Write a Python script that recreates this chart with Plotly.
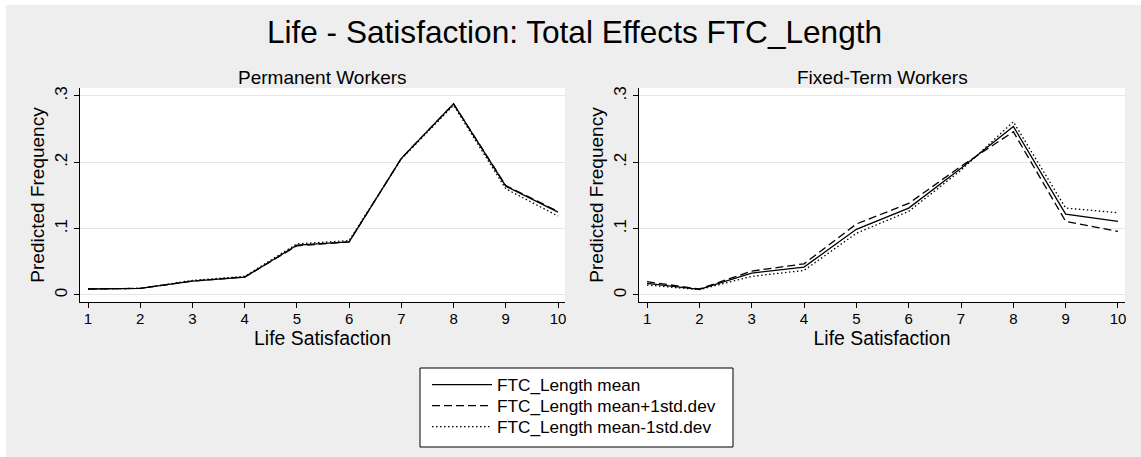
import plotly.graph_objects as go

# ---------------- data ----------------
life_sat = [1, 2, 3, 4, 5, 6, 7, 8, 9, 10]

perm_mean = [0.009, 0.010, 0.021, 0.027, 0.075, 0.080, 0.206, 0.288, 0.164, 0.125]
perm_plus = [0.009, 0.010, 0.021, 0.027, 0.074, 0.080, 0.206, 0.288, 0.165, 0.126]
perm_minus = [0.009, 0.010, 0.022, 0.028, 0.077, 0.082, 0.205, 0.286, 0.160, 0.119]

fixed_mean = [0.0175, 0.0085, 0.033, 0.042, 0.099, 0.131, 0.191, 0.254, 0.122, 0.111]
fixed_plus = [0.020, 0.009, 0.036, 0.047, 0.107, 0.138, 0.194, 0.246, 0.111, 0.096]
fixed_minus = [0.015, 0.008, 0.028, 0.037, 0.093, 0.126, 0.188, 0.261, 0.131, 0.124]

series_names = ["FTC_Length mean", "FTC_Length mean+1std.dev", "FTC_Length mean-1std.dev"]
y_ticks = [0, 0.1, 0.2, 0.3]
y_ticklabels = ["0", ".1", ".2", ".3"]
panel_titles = ["Permanent Workers", "Fixed-Term Workers"]
main_title = "Life - Satisfaction: Total Effects FTC_Length"
x_title = "Life Satisfaction"
y_title = "Predicted Frequency"

# ---------------- layout geometry ----------------
W, H = 1141, 457
FONT = "Liberation Sans, Arial, Helvetica, sans-serif"
BG = "#eeeeee"

def px_x(p):
    return p / W

def px_y(p):
    return 1 - p / H

dashes = ["solid", "8px,4px", "1.5px,2.5px"]
legend_ids = ["legend", "legend2", "legend3"]
legend_rows = [385, 406, 427]

fig = go.Figure()

panels = [
    ("x", "y", [perm_mean, perm_plus, perm_minus]),
    ("x2", "y2", [fixed_mean, fixed_plus, fixed_minus]),
]
for pi, (xa, ya, sets) in enumerate(panels):
    for si, vals in enumerate(sets):
        fig.add_trace(go.Scatter(
            x=life_sat, y=vals, mode="lines",
            name=series_names[si],
            line=dict(color="black", width=1.3, dash=dashes[si]),
            xaxis=xa, yaxis=ya,
            showlegend=(pi == 0),
            legend=legend_ids[si],
            hoverinfo="skip",
        ))

def xaxis_cfg(d0, d1, anchor):
    return dict(
        domain=[px_x(d0), px_x(d1)], anchor=anchor,
        range=[0.846, 10.134],
        tickmode="array", tickvals=life_sat,
        ticks="outside", ticklen=5, tickcolor="black", tickwidth=1,
        showline=True, linecolor="black", linewidth=1,
        showgrid=False, zeroline=False,
        tickfont=dict(family=FONT, size=15, color="black"),
        ticklabelstandoff=-2,
        title=dict(text=x_title, font=dict(family=FONT, size=19.4, color="black"), standoff=0),
        automargin=False,
    )

def yaxis_cfg(anchor):
    return dict(
        domain=[px_y(302), px_y(88)], anchor=anchor,
        range=[-0.0106, 0.312],
        tickmode="array", tickvals=y_ticks, ticktext=y_ticklabels,
        tickangle=-90,
        ticks="outside", ticklen=5, tickcolor="black", tickwidth=1,
        showline=True, linecolor="black", linewidth=1,
        showgrid=True, gridcolor="#e6e6e6", gridwidth=1,
        zeroline=False,
        tickfont=dict(family=FONT, size=17, color="black"),
        title=dict(text=y_title, font=dict(family=FONT, size=19, color="black"), standoff=2),
        automargin=False,
    )

legend_cfgs = {}
for lid, row in zip(legend_ids, legend_rows):
    legend_cfgs[lid] = dict(
        x=px_x(427), xanchor="left",
        y=px_y(row), yanchor="middle",
        bgcolor="rgba(0,0,0,0)", borderwidth=0,
        font=dict(family=FONT, size=17.2, color="black"),
        tracegroupgap=0,
        itemwidth=60,
    )

fig.update_layout(
    width=W, height=H,
    margin=dict(l=0, r=0, t=0, b=0),
    paper_bgcolor=BG,
    plot_bgcolor="white",
    font=dict(family=FONT, color="black"),
    xaxis=xaxis_cfg(80, 565, "y"),
    yaxis=yaxis_cfg("x"),
    xaxis2=xaxis_cfg(639, 1125, "y2"),
    yaxis2=yaxis_cfg("x2"),
    title=dict(text=main_title, x=px_x(574.5), xanchor="center",
               y=px_y(32), yanchor="middle", yref="container",
               font=dict(family=FONT, size=31.6, color="black")),
    showlegend=True,
    **legend_cfgs,
)

# subtitles
for cx, txt in [((80 + 565) / 2, panel_titles[0]), ((639 + 1125) / 2, panel_titles[1])]:
    fig.add_annotation(
        text=txt, xref="paper", yref="paper",
        x=px_x(cx), y=px_y(77), xanchor="center", yanchor="middle",
        showarrow=False, font=dict(family=FONT, size=19, color="black"),
    )

# white page margins at left/top
fig.add_shape(type="rect", xref="paper", yref="paper", x0=0, x1=px_x(6), y0=0, y1=1,
              fillcolor="white", line=dict(width=0), layer="below")
fig.add_shape(type="rect", xref="paper", yref="paper", x0=0, x1=1, y0=px_y(5), y1=1,
              fillcolor="white", line=dict(width=0), layer="below")
# legend box
fig.add_shape(type="rect", xref="paper", yref="paper",
              x0=px_x(420), x1=px_x(733), y0=px_y(447), y1=px_y(368),
              fillcolor="white", line=dict(color="black", width=1), layer="below")

fig.write_html("out.html", config={"displayModeBar": False},
               post_script="document.body.style.margin='0';")
